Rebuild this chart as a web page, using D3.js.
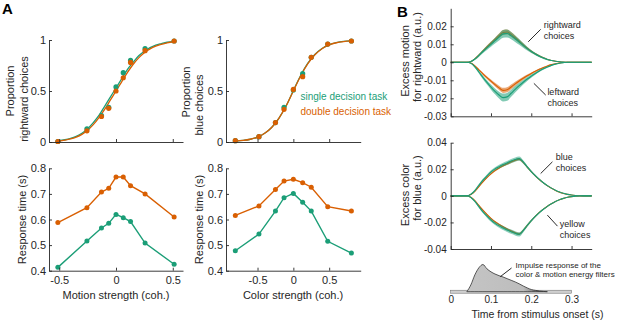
<!DOCTYPE html>
<html><head><meta charset="utf-8">
<script src="https://cdn.jsdelivr.net/npm/d3@7"></script>
<style>body{margin:0;background:#fff}svg{display:block;font-family:"Liberation Sans",Arial,sans-serif}</style>
</head><body>
<script>
// ---------- data ----------
const motionCoh = [-0.512,-0.256,-0.128,-0.064,0,0.064,0.128,0.256,0.512];
const colorCoh  = [-0.81,-0.48,-0.25,-0.13,0,0.13,0.25,0.48,0.81];

const pMotionSingle = [0.005,0.13,0.26,0.34,0.54,0.68,0.80,0.915,0.99];
const pMotionDouble = [0.005,0.11,0.25,0.33,0.50,0.63,0.78,0.895,0.99];
const pColorSingle  = [0.013,0.052,0.19,0.34,0.51,0.67,0.83,0.96,0.99];
const pColorDouble  = [0.013,0.052,0.19,0.32,0.515,0.64,0.83,0.96,0.99];

const rtMotionSingle = [0.413,0.516,0.567,0.585,0.620,0.607,0.592,0.508,0.425];
const rtMotionDouble = [0.588,0.646,0.707,0.722,0.766,0.766,0.732,0.700,0.610];
const rtColorSingle  = [0.478,0.543,0.633,0.685,0.702,0.667,0.633,0.515,0.469];
const rtColorDouble  = [0.616,0.653,0.717,0.750,0.757,0.744,0.726,0.650,0.633];

// fitted psychometric curves
const fitMotionX = [-0.512,-0.45,-0.4,-0.35,-0.3,-0.25,-0.2,-0.15,-0.1,-0.05,0,0.05,0.1,0.15,0.2,0.25,0.3,0.35,0.4,0.45,0.512];
const fitMotionSingle = [0.012,0.022,0.035,0.055,0.085,0.13,0.19,0.26,0.35,0.44,0.53,0.62,0.71,0.78,0.845,0.89,0.925,0.95,0.965,0.978,0.987];
const fitMotionDouble = [0.010,0.019,0.030,0.048,0.075,0.115,0.17,0.24,0.32,0.41,0.50,0.59,0.68,0.76,0.825,0.875,0.913,0.94,0.958,0.972,0.983];
const fitColorX = [-0.81,-0.7,-0.6,-0.5,-0.4,-0.3,-0.2,-0.1,0,0.1,0.2,0.3,0.4,0.5,0.6,0.7,0.81];
const fitColorSingle = [0.008,0.015,0.027,0.048,0.085,0.145,0.235,0.355,0.505,0.65,0.77,0.858,0.917,0.953,0.974,0.986,0.992];
const fitColorDouble = [0.008,0.015,0.027,0.048,0.085,0.145,0.235,0.355,0.50,0.645,0.765,0.855,0.915,0.952,0.973,0.985,0.992];

// psychophysical kernels
const timeS = [0,0.01,0.02,0.03,0.04,0.05,0.06,0.07,0.08,0.09,0.10,0.11,0.12,0.13,0.14,0.15,0.16,0.17,0.18,0.19,0.20,0.21,0.22,0.23,0.24,0.25,0.26,0.27,0.28,0.29,0.30,0.31,0.32,0.33,0.34,0.35];
const rightSingle = [0,0,0,0,0,0.0004,0.0018,0.0038,0.0060,0.0080,0.0100,0.0120,0.0140,0.0158,0.0160,0.0148,0.0131,0.0113,0.0094,0.0076,0.0060,0.0046,0.0034,0.0024,0.0016,0.0010,0.0006,0.0003,0.0001,0,0,0,0,0,0,0];
const rightDouble = [0,0,0,0,0,0.0004,0.0019,0.0040,0.0063,0.0085,0.0106,0.0127,0.0148,0.0166,0.0168,0.0155,0.0137,0.0117,0.0097,0.0078,0.0061,0.0047,0.0035,0.0025,0.0016,0.0010,0.0006,0.0003,0.0001,0,0,0,0,0,0,0];
const leftSingle  = [0,0,0,0,0,-0.0005,-0.0025,-0.0054,-0.0084,-0.0112,-0.0138,-0.0162,-0.0182,-0.0196,-0.0192,-0.0172,-0.0150,-0.0130,-0.0111,-0.0093,-0.0077,-0.0062,-0.0048,-0.0036,-0.0026,-0.0017,-0.0010,-0.0005,-0.0002,0,0,0,0,0,0,0];
const leftDouble  = [0,0,0,0,0,-0.0004,-0.0020,-0.0042,-0.0064,-0.0085,-0.0105,-0.0124,-0.0142,-0.0156,-0.0153,-0.0137,-0.0120,-0.0104,-0.0089,-0.0075,-0.0062,-0.0050,-0.0039,-0.0029,-0.0020,-0.0013,-0.0008,-0.0004,-0.0001,0,0,0,0,0,0,0];
const semMotionSingle = [0,0,0,0,0,0.0002,0.0005,0.0008,0.0010,0.0012,0.0014,0.0016,0.0019,0.0022,0.0022,0.0020,0.0018,0.0016,0.0013,0.0011,0.0009,0.0007,0.0006,0.0005,0.0004,0.0003,0.0002,0.0001,0.0001,0,0,0,0,0,0,0];
const semMotionDouble = [0,0,0,0,0,0.0001,0.0003,0.0005,0.0006,0.0008,0.0009,0.0010,0.0012,0.0014,0.0014,0.0013,0.0012,0.0010,0.0009,0.0007,0.0006,0.0005,0.0004,0.0003,0.0002,0.0002,0.0001,0.0001,0,0,0,0,0,0,0,0];

const blueSingle   = [0,0,0,0,0,0.0012,0.0040,0.0080,0.0118,0.0150,0.0180,0.0203,0.0220,0.0235,0.0248,0.0262,0.0273,0.0280,0.0255,0.0218,0.0183,0.0152,0.0124,0.0099,0.0077,0.0058,0.0042,0.0029,0.0019,0.0011,0.0006,0.0003,0.0001,0,0,0];
const blueDouble   = [0,0,0,0,0,0.0010,0.0034,0.0070,0.0105,0.0137,0.0166,0.0190,0.0209,0.0226,0.0241,0.0256,0.0268,0.0276,0.0252,0.0216,0.0182,0.0151,0.0123,0.0098,0.0076,0.0057,0.0041,0.0028,0.0018,0.0011,0.0006,0.0003,0.0001,0,0,0];
const yellowSingle = [0,0,0,0,0,-0.0012,-0.0042,-0.0082,-0.0120,-0.0153,-0.0183,-0.0207,-0.0226,-0.0242,-0.0257,-0.0270,-0.0282,-0.0290,-0.0262,-0.0223,-0.0187,-0.0155,-0.0126,-0.0101,-0.0079,-0.0060,-0.0043,-0.0030,-0.0019,-0.0011,-0.0006,-0.0003,-0.0001,0,0,0];
const yellowDouble = [0,0,0,0,0,-0.0010,-0.0036,-0.0072,-0.0108,-0.0140,-0.0170,-0.0195,-0.0215,-0.0233,-0.0250,-0.0265,-0.0278,-0.0287,-0.0260,-0.0222,-0.0186,-0.0154,-0.0125,-0.0100,-0.0078,-0.0059,-0.0042,-0.0029,-0.0019,-0.0011,-0.0006,-0.0003,-0.0001,0,0,0];
const semColorSingle = [0,0,0,0,0,0.0004,0.0007,0.0009,0.0010,0.0011,0.0012,0.0013,0.0014,0.0015,0.0015,0.0016,0.0016,0.0016,0.0013,0.0011,0.0009,0.0008,0.0007,0.0006,0.0005,0.0004,0.0003,0.0002,0.0002,0.0001,0.0001,0,0,0,0,0];
const semColorDouble = [0,0,0,0,0,0.0002,0.0003,0.0004,0.0005,0.0005,0.0006,0.0006,0.0007,0.0007,0.0007,0.0008,0.0008,0.0008,0.0007,0.0006,0.0005,0.0004,0.0003,0.0003,0.0002,0.0002,0.0001,0.0001,0.0001,0,0,0,0,0,0,0];

// impulse response of the energy filters (normalised)
const impulseT = [0.04,0.05,0.06,0.07,0.08,0.09,0.10,0.11,0.12,0.13,0.14,0.15,0.16,0.17,0.18,0.19,0.20,0.21,0.22,0.23,0.24];
const impulseV = [0,0.25,0.62,0.88,1.0,0.84,0.73,0.65,0.59,0.54,0.48,0.42,0.36,0.29,0.21,0.14,0.08,0.05,0.025,0.01,0];

const motionTicks = [-0.5,0,0.5];
const propTicks = [0,0.5,1];
const rtTicks = [0.4,0.5,0.6,0.7,0.8];
const timeTicks = [0,0.1,0.2,0.3];
const motionKernelTicks = [-0.03,-0.02,-0.01,0,0.01,0.02];
const colorKernelTicks = [-0.04,-0.02,0,0.02,0.04];

const GREEN = "#1b9e77", ORANGE = "#d95f02", INK = "#262626";

// ---------- drawing ----------
const svg = d3.select("body").append("svg").attr("width",617).attr("height",320);
const fmt = d => String(d);

function yAxis(scale, x, ticks, fs, pad){
  const g = svg.append("g").attr("transform",`translate(${x},0)`)
    .call(d3.axisLeft(scale).tickValues(ticks).tickSizeInner(-3).tickSizeOuter(0).tickPadding(pad).tickFormat(fmt));
  style(g, fs);
}
function xAxis(scale, y, ticks, fs, pad, labels){
  const g = svg.append("g").attr("transform",`translate(0,${y})`)
    .call(d3.axisBottom(scale).tickValues(ticks).tickSizeInner(-3).tickSizeOuter(0).tickPadding(pad).tickFormat(labels?fmt:""));
  style(g, fs);
}
function style(g, fs){
  g.select(".domain").attr("stroke",INK).attr("stroke-width",0.9);
  g.selectAll(".tick line").attr("stroke",INK).attr("stroke-width",0.9);
  g.selectAll(".tick text").attr("fill",INK).style("font-size",fs+"px").style("font-family","Liberation Sans, Arial, sans-serif");
}
function label(text, x, y, rot, fs, anchor){
  svg.append("text").attr("transform",`translate(${x},${y})`+(rot?` rotate(${rot})`:""))
    .attr("text-anchor",anchor||"middle").attr("fill",INK).style("font-size",fs+"px").text(text);
}

// ----- panel scales -----
const xMotion = d3.scaleLinear().domain([-0.59,0.59]).range([49,183]);
const xColor  = d3.scaleLinear().domain([-0.94,0.94]).range([226,360.7]);
const yProp   = d3.scaleLinear().domain([0,1]).range([142,40]);
const yRT     = d3.scaleLinear().domain([0.4,0.8]).range([270.7,168.3]);

function psychPanel(xs, coh, fitX, fits, pts){
  fits.forEach((f,i)=>{
    svg.append("path").datum(fitX.map((x,j)=>[x,f.v[j]]))
      .attr("fill","none").attr("stroke",f.c).attr("stroke-width",1.3)
      .attr("d", d3.line().x(d=>xs(d[0])).y(d=>yProp(d[1])).curve(d3.curveMonotoneX));
  });
  pts.forEach(p=>{
    svg.append("g").selectAll("circle").data(coh.map((x,j)=>[x,p.v[j]])).join("circle")
      .attr("cx",d=>xs(d[0])).attr("cy",d=>yProp(d[1])).attr("r",2.6).attr("fill",p.c);
  });
}
function rtPanel(xs, coh, series){
  series.forEach(s=>{
    const d = coh.map((x,j)=>[x,s.v[j]]);
    svg.append("path").datum(d).attr("fill","none").attr("stroke",s.c).attr("stroke-width",1.4)
      .attr("d", d3.line().x(e=>xs(e[0])).y(e=>yRT(e[1])));
    svg.append("g").selectAll("circle").data(d).join("circle")
      .attr("cx",e=>xs(e[0])).attr("cy",e=>yRT(e[1])).attr("r",2.5).attr("fill",s.c);
  });
}

// top-left
psychPanel(xMotion, motionCoh, fitMotionX,
  [{v:fitMotionSingle,c:GREEN},{v:fitMotionDouble,c:ORANGE}],
  [{v:pMotionSingle,c:GREEN},{v:pMotionDouble,c:ORANGE}]);
yAxis(yProp, 49, propTicks, 11, 3);
xAxis(xMotion, 142, motionTicks, 11, 6, false);
// top-middle
psychPanel(xColor, colorCoh, fitColorX,
  [{v:fitColorSingle,c:GREEN},{v:fitColorDouble,c:ORANGE}],
  [{v:pColorSingle,c:GREEN},{v:pColorDouble,c:ORANGE}]);
yAxis(yProp, 226, propTicks, 11, 3);
xAxis(xColor, 142, motionTicks, 11, 6, false);
// bottom-left
rtPanel(xMotion, motionCoh, [{v:rtMotionDouble,c:ORANGE},{v:rtMotionSingle,c:GREEN}]);
yAxis(yRT, 49, rtTicks, 11, 3);
xAxis(xMotion, 270.7, motionTicks, 11, 6, true);
// bottom-middle
rtPanel(xColor, colorCoh, [{v:rtColorDouble,c:ORANGE},{v:rtColorSingle,c:GREEN}]);
yAxis(yRT, 226, rtTicks, 11, 3);
xAxis(xColor, 270.7, motionTicks, 11, 6, true);

// labels panel A
label("Proportion", 14, 91, -90, 11);
label("rightward  choices", 28, 99, -90, 11);
label("Proportion", 190, 92, -90, 11);
label("blue  choices", 203, 105, -90, 11);
label("Response time (s)", 26, 219.5, -90, 11);
label("Response time (s)", 202.5, 219.5, -90, 11);
label("Motion strength (coh.)", 116, 299, 0, 11);
label("Color strength (coh.)", 293, 299, 0, 11);
svg.append("text").attr("x",300.5).attr("y",99.5).attr("fill",GREEN).style("font-size","10px").text("single decision task");
svg.append("text").attr("x",300.5).attr("y",114.5).attr("fill",ORANGE).style("font-size","10px").text("double decision task");

// ----- panel B -----
const xTime = d3.scaleLinear().domain([0,0.35]).range([450.7,591.7]);
const yMot  = d3.scaleLinear().domain([-0.03,0.03]).range([116.3,8.3]);
const yCol  = d3.scaleLinear().domain([-0.04,0.04]).range([249,142.7]);

function kernel(ys, mean, sem, color, bandOp){
  const d = timeS.map((t,i)=>({t, m:mean[i], s:sem[i]}));
  svg.append("path").datum(d).attr("fill",color).attr("fill-opacity",bandOp)
    .attr("d", d3.area().x(e=>xTime(e.t)).y0(e=>ys(e.m-e.s)).y1(e=>ys(e.m+e.s)).curve(d3.curveMonotoneX));
  svg.append("path").datum(d).attr("fill","none").attr("stroke",color).attr("stroke-width",1.1)
    .attr("d", d3.line().x(e=>xTime(e.t)).y(e=>ys(e.m)).curve(d3.curveMonotoneX));
}
kernel(yMot, rightDouble, semMotionDouble, ORANGE, 0.55);
kernel(yMot, leftDouble, semMotionDouble, ORANGE, 0.55);
kernel(yMot, rightSingle, semMotionSingle, GREEN, 0.55);
kernel(yMot, leftSingle, semMotionSingle, GREEN, 0.55);
kernel(yCol, blueDouble, semColorDouble, ORANGE, 0.6);
kernel(yCol, yellowDouble, semColorDouble, ORANGE, 0.6);
kernel(yCol, blueSingle, semColorSingle, GREEN, 0.5);
kernel(yCol, yellowSingle, semColorSingle, GREEN, 0.5);

yAxis(yMot, 450.7, motionKernelTicks, 10, 4);
xAxis(xTime, 116.3, timeTicks, 10, 6, false);
yAxis(yCol, 450.7, colorKernelTicks, 10, 4);
xAxis(xTime, 249, timeTicks, 10, 6, false);

label("Excess motion", 409, 61, -90, 11);
label("for rightward (a.u.)", 421, 57, -90, 11);
label("Excess color", 409, 195, -90, 11);
label("for blue (a.u.)", 421, 188, -90, 11);

// annotations (in data units)
function note(xs, ys, lines, tx, ty, lh, p1, p2){
  lines.forEach((s,i)=>svg.append("text").attr("x",xs(tx)).attr("y",ys(ty)+i*lh)
    .attr("fill",INK).style("font-size","9px").text(s));
  svg.append("line").attr("x1",xs(p1[0])).attr("y1",ys(p1[1])).attr("x2",xs(p2[0])).attr("y2",ys(p2[1]))
    .attr("stroke","#111").attr("stroke-width",0.9);
}
note(xTime, yMot, ["rightward","choices"], 0.231, 0.0193, 11, [0.2233,0.0183],[0.1925,0.0114]);
note(xTime, yMot, ["leftward","choices"], 0.240, -0.0179, 11.3, [0.2065,-0.0117],[0.2358,-0.0182]);
note(xTime, yCol, ["blue","choices"], 0.261, 0.0268, 11, [0.2525,0.0256],[0.2233,0.0168]);
note(xTime, yCol, ["yellow","choices"], 0.271, -0.0232, 11.5, [0.24,-0.0145],[0.265,-0.0228]);

// impulse response
const yImp = d3.scaleLinear().domain([0,1]).range([291.7,264.5]);
const defs = svg.append("defs");
const grad = defs.append("linearGradient").attr("id","impGrad").attr("x1","0").attr("x2","1").attr("y1","0").attr("y2","0");
grad.append("stop").attr("offset","0").attr("stop-color","#c4c4c4");
grad.append("stop").attr("offset","0.7").attr("stop-color","#bdbdbd");
grad.append("stop").attr("offset","1").attr("stop-color","#444");
svg.append("rect").attr("x",xTime(0)).attr("y",yImp(0)-1.5).attr("width",xTime(0.3)-xTime(0)).attr("height",3)
  .attr("fill","#cfcfcf").attr("stroke","#666").attr("stroke-width",0.5);
svg.append("path").datum(impulseT.map((t,i)=>[t,impulseV[i]]))
  .attr("fill","url(#impGrad)").attr("stroke","#333").attr("stroke-width",0.8)
  .attr("d", d3.area().x(d=>xTime(d[0])).y0(yImp(0)).y1(d=>yImp(d[1])).curve(d3.curveMonotoneX));
const gI = svg.append("g").attr("transform",`translate(0,${yImp(0)})`)
  .call(d3.axisBottom(xTime).tickValues(timeTicks).tickSize(0).tickPadding(4.5).tickFormat(fmt));
gI.select(".domain").remove();
gI.selectAll(".tick text").attr("fill",INK).style("font-size","10px").style("font-family","Liberation Sans, Arial, sans-serif");
label("Time from stimulus onset (s)", 537.5, 318, 0, 10.5);
["Impulse response of the","color & motion energy filters"].forEach((s,i)=>
  svg.append("text").attr("x",xTime(0.161)).attr("y",yImp(0.871)+i*8.5).attr("fill",INK).style("font-size","8px").text(s));
svg.append("line").attr("x1",xTime(0.151)).attr("y1",yImp(0.871)).attr("x2",xTime(0.123)).attr("y2",yImp(0.551))
  .attr("stroke","#111").attr("stroke-width",0.9);

// panel letters
svg.append("text").attr("x",2).attr("y",14).attr("fill","#000").style("font-size","15px").style("font-weight","bold").text("A");
svg.append("text").attr("x",397).attr("y",17).attr("fill","#000").style("font-size","15px").style("font-weight","bold").text("B");
</script>
</body></html>
